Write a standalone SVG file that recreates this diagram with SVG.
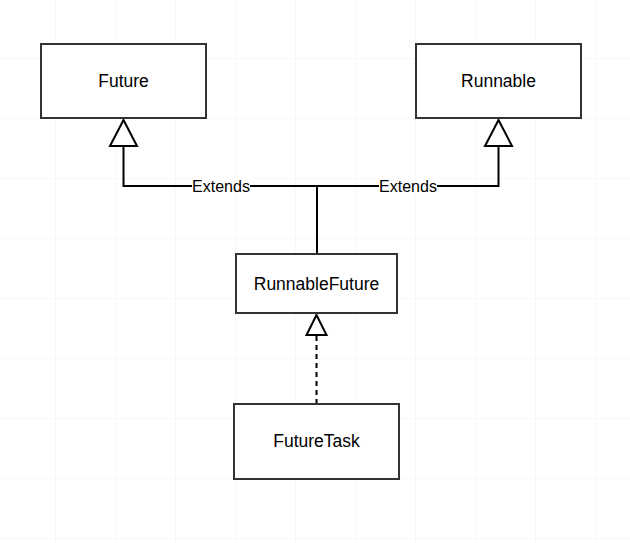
<svg xmlns="http://www.w3.org/2000/svg" width="630" height="543" viewBox="0 0 630 543">
<defs>
<pattern id="grid" x="55" y="58" width="60" height="60" patternUnits="userSpaceOnUse">
<path d="M0 0H60M0 0V60" fill="none" stroke="#f0f0f0" stroke-width="1"/>
</pattern>
</defs>
<style>
.box{fill:#fff;stroke:#333;stroke-width:2}
.lbl{font-family:"Liberation Sans",Arial,sans-serif;font-size:17.5px;fill:#000;text-anchor:middle}
.elbl{font-family:"Liberation Sans",Arial,sans-serif;font-size:16px;fill:#000;text-anchor:middle}
.edge{fill:none;stroke:#000;stroke-width:2}
.head{fill:#fff;stroke:#000;stroke-width:2}
</style>
<rect width="630" height="543" fill="#fff"/>
<rect width="630" height="543" fill="url(#grid)"/>
<g id="connectors">
<path class="edge" d="M317 254V186H123.5V146"/>
<path class="edge" d="M317 186H498.5V146"/>
<polygon class="head" points="123.5,120 110,146 137,146"/>
<polygon class="head" points="498.5,120 485,146 512,146"/>
<path class="edge" d="M316.5 404V335" stroke-dasharray="5 4"/>
<polygon class="head" points="316.5,315 306.5,335 326.5,335"/>
<rect x="192" y="178" width="58" height="17" fill="#fff"/>
<text class="elbl" x="221" y="191.5">Extends</text>
<rect x="379" y="178" width="58" height="17" fill="#fff"/>
<text class="elbl" x="408" y="191.5">Extends</text>
</g>
<g id="future">
<rect class="box" x="41" y="44" width="165" height="74"/>
<text class="lbl" x="123.5" y="87">Future</text>
</g>
<g id="runnable">
<rect class="box" x="416" y="44" width="165" height="74"/>
<text class="lbl" x="498.5" y="87">Runnable</text>
</g>
<g id="runnablefuture">
<rect class="box" x="236" y="254" width="161" height="59"/>
<text class="lbl" x="316.5" y="290">RunnableFuture</text>
</g>
<g id="futuretask">
<rect class="box" x="234" y="404" width="165" height="75"/>
<text class="lbl" x="316.5" y="447">FutureTask</text>
</g>
</svg>
